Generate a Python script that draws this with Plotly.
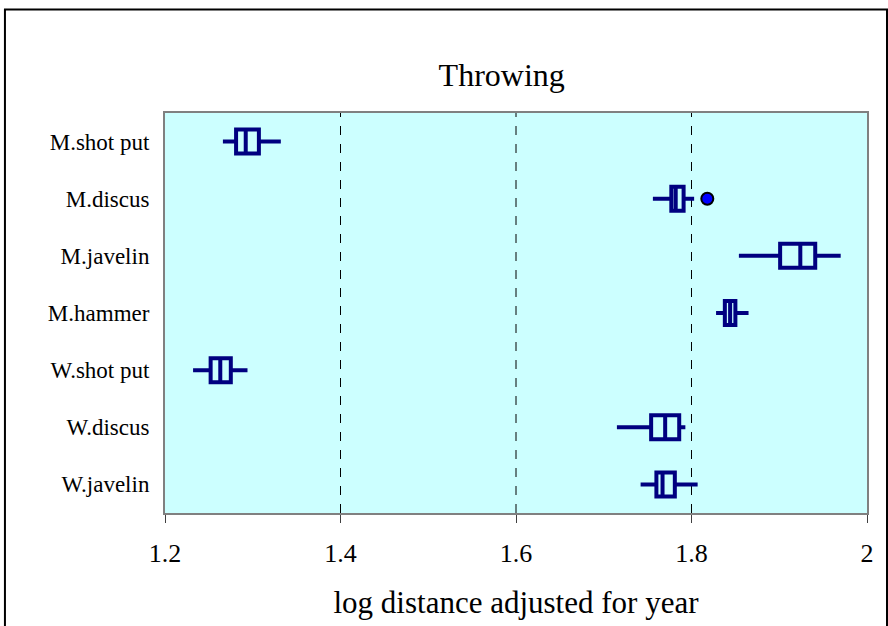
import plotly.graph_objects as go

# Throwing events, top to bottom
events = ["M.shot put", "M.discus", "M.javelin", "M.hammer",
          "W.shot put", "W.discus", "W.javelin"]

# Box-plot statistics (log distance adjusted for year)
lower_whisker = [1.266, 1.756, 1.854, 1.828, 1.232, 1.715, 1.742]
q1_values     = [1.281, 1.777, 1.901, 1.838, 1.252, 1.754, 1.760]
median_values = [1.292, 1.782, 1.924, 1.844, 1.263, 1.770, 1.767]
q3_values     = [1.307, 1.791, 1.941, 1.850, 1.275, 1.786, 1.781]
upper_whisker = [1.332, 1.803, 1.970, 1.865, 1.294, 1.793, 1.807]

# Outlying observations
outlier_events = ["M.discus"]
outlier_values = [1.818]

x_ticks = [1.2, 1.4, 1.6, 1.8, 2.0]
x_tick_labels = ["1.2", "1.4", "1.6", "1.8", "2"]

navy = "#000080"
bg = "#CCFFFF"
serif = "Liberation Serif, Times New Roman, serif"

fig = go.Figure()

fig.add_trace(go.Box(
    y=events,
    q1=q1_values,
    median=median_values,
    q3=q3_values,
    lowerfence=lower_whisker,
    upperfence=upper_whisker,
    orientation="h",
    line=dict(color=navy, width=4),
    fillcolor=bg,
    width=0.42,
    whiskerwidth=0,
    boxpoints=False,
    hoverinfo="x+y",
    showlegend=False,
))

fig.add_trace(go.Scatter(
    x=outlier_values,
    y=outlier_events,
    mode="markers",
    marker=dict(color="#0000FF", size=12, line=dict(color="black", width=2)),
    showlegend=False,
))

# Dashed reference lines at the interior ticks
for xv in x_ticks[1:-1]:
    fig.add_shape(type="line", xref="x", yref="paper", x0=xv, x1=xv, y0=0, y1=1,
                  line=dict(color="black", width=1, dash="dash"), layer="below")

# Outer chart frame
fig.add_shape(type="rect", xref="paper", yref="paper",
              x0=-0.228, x1=1.0285, y0=-0.3, y1=1.2587,
              line=dict(color="black", width=2), fillcolor="rgba(0,0,0,0)")

fig.update_layout(
    width=888, height=626,
    margin=dict(l=165, r=21, t=113, b=111),
    paper_bgcolor="white",
    plot_bgcolor=bg,
    title=dict(text="Throwing", x=0.565, xanchor="center", y=0.88, yanchor="middle",
               font=dict(family=serif, size=32, color="black")),
    xaxis=dict(
        range=[1.2, 2.0],
        tickvals=x_ticks,
        ticktext=x_tick_labels,
        ticks="outside", ticklen=8, tickwidth=1, tickcolor="#404040",
        showgrid=False, zeroline=False,
        showline=True, linecolor="#808080", linewidth=2, mirror=True,
        tickfont=dict(family=serif, size=26, color="black"),
        ticklabelstandoff=8,
        title=dict(text="log distance adjusted for year", standoff=24,
                   font=dict(family=serif, size=31, color="black")),
    ),
    yaxis=dict(
        categoryorder="array",
        categoryarray=events[::-1],
        autorange=False,
        range=[-0.5, 6.5],
        showgrid=False, zeroline=False, ticks="",
        showline=True, linecolor="#808080", linewidth=2, mirror=True,
        tickfont=dict(family=serif, size=23, color="black"),
        ticklabelstandoff=9,
    ),
)

fig.write_html("out.html")
